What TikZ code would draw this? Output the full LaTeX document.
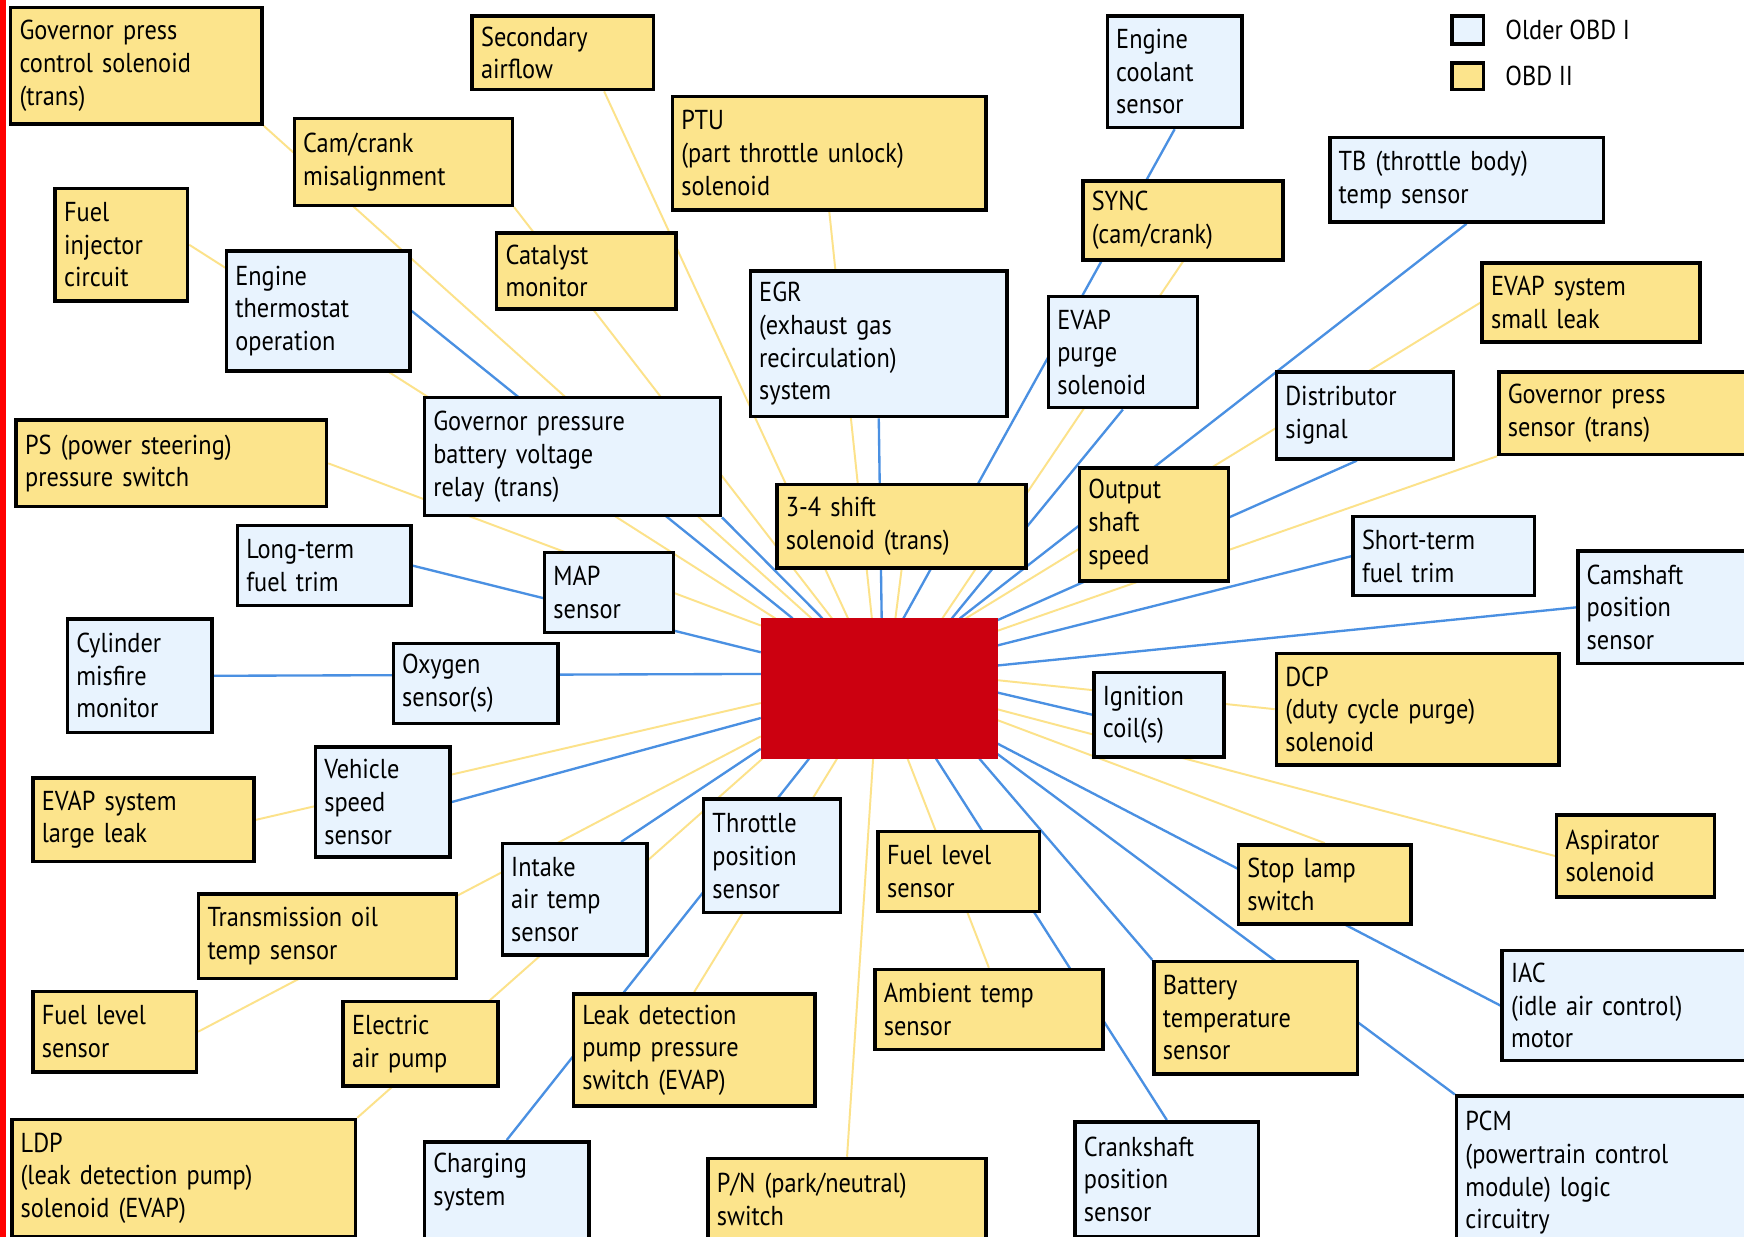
\documentclass[tikz,border=0pt]{standalone}
\usepackage{fontspec}
\setmainfont[FakeStretch=0.89]{PT Sans}
\usepackage{tikz}
\usetikzlibrary{calc,positioning,backgrounds}
\definecolor{obdblue}{RGB}{232,243,254}
\definecolor{obdyel}{RGB}{252,228,140}
\definecolor{wireblue}{RGB}{74,144,226}
\definecolor{wireyel}{RGB}{252,226,138}
\definecolor{ecured}{RGB}{204,0,16}
\tikzset{
  boxwh/.code 2 args={\pgfmathsetlengthmacro\boxtw{#1*0.02cm-0.32cm}\tikzset{text width/.expanded=\boxtw,minimum height=#2*0.02cm}},
  obdone/.style={rectangle,anchor=north west,draw=black,line width=1.8pt,fill=obdblue,align=left,inner xsep=0.16cm,inner ysep=2pt,font=\fontsize{14}{16.7}\selectfont},
  obdtwo/.style={obdone,fill=obdyel},
  keybox/.style={rectangle,anchor=north west,draw=black,line width=1.8pt,inner sep=0pt},
  keytext/.style={anchor=west,inner sep=0pt,font=\fontsize{14}{16.7}\selectfont},
  bline/.style={draw=wireblue,line width=1.2pt},
  yline/.style={draw=wireyel,line width=1pt},
}
\begin{document}
\begin{tikzpicture}[x=0.02cm,y=-0.02cm]
  \useasboundingbox (0,0) rectangle (1568,1112);
  \clip (0,0) rectangle (1568,1112);
  \fill[red] (0,0) rectangle (5,1112);
  % upper left
  \node[obdtwo,boxwh={226}{105}] (gpctrl) at (8,5) {Governor press\\control solenoid\\(trans)};
  \node[obdtwo,boxwh={163}{66}] (secair) at (423,13) {Secondary\\airflow};
  \node[obdtwo,boxwh={196}{78}] (camcrank) at (263,105) {Cam/crank\\misalignment};
  \node[obdtwo,boxwh={119}{101}] (fuelinj) at (48,168) {Fuel\\injector\\circuit};
  \node[obdone,boxwh={165}{108}] (thermo) at (202,224) {Engine\\thermostat\\operation};
  \node[obdtwo,boxwh={161}{68}] (catalyst) at (445,208) {Catalyst\\monitor};
  \node[obdtwo,boxwh={279}{78}] (psswitch) at (13,376) {PS (power steering)\\pressure switch};
  \node[obdone,boxwh={266}{106}] (gprelay) at (380,356) {Governor pressure\\battery voltage\\relay (trans)};
  \node[obdone,boxwh={156}{72}] (ltrim) at (212,471) {Long-term\\fuel trim};
  \node[obdone,boxwh={116}{72}] (mapsens) at (488,495) {MAP\\sensor};
  \node[obdone,boxwh={130}{102}] (misfire) at (59,555) {Cylinder\\misfire\\monitor};
  \node[obdone,boxwh={148}{72}] (oxygen) at (352,577) {Oxygen\\sensor(s)};
  % upper middle and right
  \node[obdtwo,boxwh={282}{102}] (ptu) at (603,85) {PTU\\(part throttle unlock)\\solenoid};
  \node[obdone,boxwh={121}{100}] (coolant) at (994,13) {Engine\\coolant\\sensor};
  \node[obdone,boxwh={246}{76}] (tbtemp) at (1194,122) {TB (throttle body)\\temp sensor};
  \node[obdtwo,boxwh={180}{71}] (sync) at (972,161) {SYNC\\(cam/crank)};
  \node[obdone,boxwh={231}{131}] (egr) at (673,242) {EGR\\(exhaust gas\\recirculation)\\system};
  \node[obdone,boxwh={134}{100}] (purge) at (941,265) {EVAP\\purge\\solenoid};
  \node[obdtwo,boxwh={196}{71}] (smallleak) at (1331,235) {EVAP system\\small leak};
  \node[obdone,boxwh={159}{78}] (distrib) at (1146,333) {Distributor\\signal};
  \node[obdtwo,boxwh={240}{74}] (gpsensor) at (1346,333) {Governor press\\sensor (trans)};
  \node[obdtwo,boxwh={224}{75}] (shift) at (697,434) {3-4 shift\\solenoid (trans)};
  \node[obdtwo,boxwh={134}{102}] (outshaft) at (969,419) {Output\\shaft\\speed};
  \node[obdone,boxwh={163}{71}] (strim) at (1215,463) {Short-term\\fuel trim};
  \node[obdone,boxwh={170}{101}] (camshaft) at (1417,494) {Camshaft\\position\\sensor};
  % centre
  \node[rectangle,anchor=north west,fill=ecured,inner sep=0pt,outer sep=0pt,minimum width=213*0.02cm,minimum height=126*0.02cm] (ecu) at (684,556) {};
  \node[obdone,boxwh={117}{76}] (ignition) at (982,603) {Ignition\\coil(s)};
  \node[obdtwo,boxwh={254}{100}] (dcp) at (1146,586) {DCP\\(duty cycle purge)\\solenoid};
  % lower left
  \node[obdone,boxwh={121}{99}] (vspeed) at (282,670) {Vehicle\\speed\\sensor};
  \node[obdtwo,boxwh={199}{75}] (largeleak) at (28,698) {EVAP system\\large leak};
  \node[obdone,boxwh={123}{102}] (throttle) at (631,717) {Throttle\\position\\sensor};
  \node[obdone,boxwh={130}{100}] (intake) at (450,757) {Intake\\air temp\\sensor};
  \node[obdtwo,boxwh={232}{76}] (transoil) at (177,802) {Transmission oil\\temp sensor};
  \node[obdtwo,boxwh={147}{72}] (fuelleft) at (28,890) {Fuel level\\sensor};
  \node[obdtwo,boxwh={139}{76}] (airpump) at (307,899) {Electric\\air pump};
  \node[obdtwo,boxwh={217}{101}] (leakdet) at (514,892) {Leak detection\\pump pressure\\switch (EVAP)};
  \node[obdtwo,boxwh={309}{105}] (ldp) at (9,1005) {LDP\\(leak detection pump)\\solenoid (EVAP)};
  \node[obdone,boxwh={148}{90},text depth=1.05cm] (charging) at (380,1025) {Charging\\system};
  % lower right
  \node[obdtwo,boxwh={145}{72}] (fuelmid) at (788,746) {Fuel level\\sensor};
  \node[obdtwo,boxwh={155}{71}] (stoplamp) at (1112,758) {Stop lamp\\switch};
  \node[obdtwo,boxwh={142}{74}] (aspirator) at (1398,731) {Aspirator\\solenoid};
  \node[obdone,boxwh={240}{99}] (iac) at (1349,853) {IAC\\(idle air control)\\motor};
  \node[obdtwo,boxwh={205}{72}] (ambient) at (785,870) {Ambient temp\\sensor};
  \node[obdtwo,boxwh={183}{101}] (battery) at (1036,863) {Battery\\temperature\\sensor};
  \node[obdtwo,boxwh={250}{74}] (pn) at (635,1040) {P/N (park/neutral)\\switch};
  \node[obdone,boxwh={165}{103}] (crankpos) at (965,1007) {Crankshaft\\position\\sensor};
  \node[obdone,boxwh={280}{138}] (pcm) at (1308,984) {PCM\\(powertrain control\\module) logic\\circuitry};
  % key
  \node[keybox,fill=obdblue,minimum width=28*0.02cm,minimum height=25*0.02cm] (keyone) at (1304,13) {};
  \node[keybox,fill=obdyel,minimum width=28*0.02cm,minimum height=24*0.02cm] (keytwo) at (1304,55) {};
  \node[keytext,right=0.36cm of keyone.east] (keyonetxt) {Older OBD I};
  \node[keytext,right=0.36cm of keytwo.east] (keytwotxt) {OBD II};
  % wires to the ECU
  \begin{scope}[on background layer]
    \fill[white] (0,0) rectangle (1568,1112);
    \path[yline] (ecu.146) -- (fuelinj.east);
    \path[bline] (ecu.141) -- (thermo.east);
    \path[yline] (ecu.134) -- (gpctrl.south east);
    \path[bline] (ecu.129) -- (gprelay.south east);
    \path[yline] (ecu.124) -- (camcrank.south east);
    \path[yline] (ecu.114) -- (secair.-43);
    \path[yline] (ecu.96) -- (ptu.south);
    \path[bline] (ecu.88) -- (egr.south);
    \path[yline] (ecu.77) -- (shift.south);
    \path[bline] (ecu.71) -- (coolant.south);
    \path[yline] (ecu.48) -- (sync.south);
    \path[bline] (ecu.44) -- (purge.south);
    \path[bline] (ecu.41) -- (tbtemp.south);
    \path[yline] (ecu.39) -- (smallleak.west);
    \path[bline] (ecu.30) -- (distrib.-100);
    \path[yline] (ecu.26) -- (gpsensor.south west);
    \path[bline] (ecu.20) -- (strim.west);
    \path[bline] (ecu.11) -- (camshaft.west);
    \path[yline] (ecu.4) -- (dcp.west);
    \path[bline] (ecu.-2) -- (ignition.west);
    \path[yline] (ecu.-10) -- (aspirator.west);
    \path[yline] (ecu.-15) -- (stoplamp.north);
    \path[bline] (ecu.-25) -- (iac.west);
    \path[bline] (ecu.-29) -- (pcm.north west);
    \path[bline] (ecu.-35) -- (battery.north west);
    \path[bline] (ecu.-51) -- (crankpos.north);
    \path[yline] (ecu.-68) -- (ambient.north);
    \path[yline] (ecu.-95) -- (pn.north);
    \path[yline] (ecu.-121) -- (leakdet.north);
    \path[bline] (ecu.-135) -- (charging.north);
    \path[yline] (ecu.-149) -- (ldp.north east);
    \path[bline] (ecu.-153) -- (intake.51);
    \path[yline] (ecu.-158) -- (fuelleft.east);
    \path[bline] (ecu.-166) -- (vspeed.east);
    \path[yline] (ecu.-173) -- (largeleak.east);
    \path[bline] (ecu.173) -- (misfire.east);
    \path[bline] (ecu.163) -- (ltrim.east);
    \path[yline] (ecu.152) -- (psswitch.east);
  \end{scope}
\end{tikzpicture}
\end{document}
